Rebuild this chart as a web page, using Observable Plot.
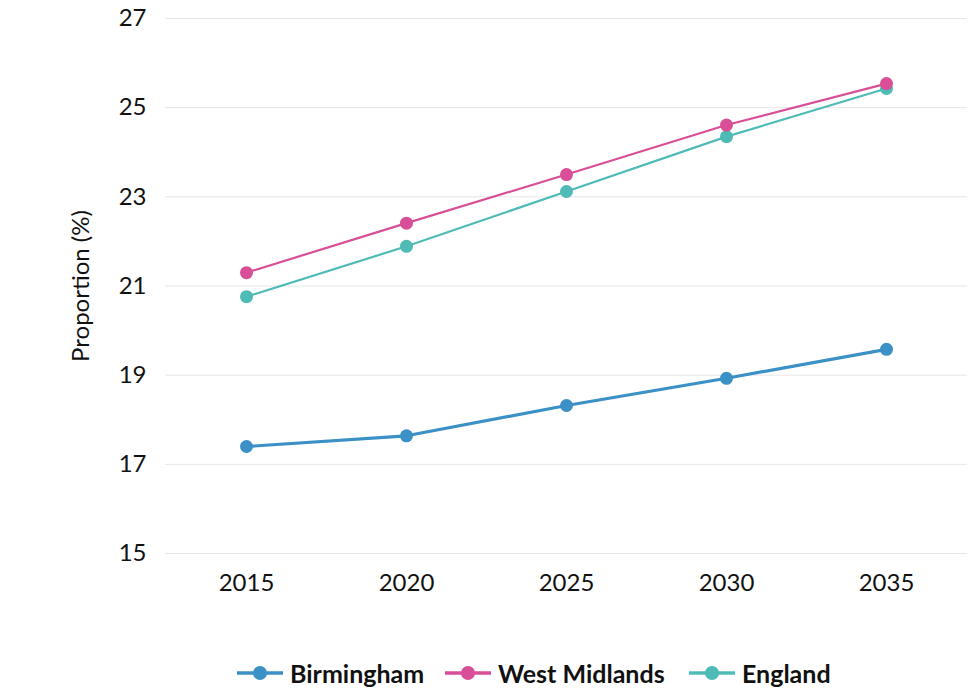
<!DOCTYPE html>
<html>
<head>
<meta charset="utf-8">
<script src="https://cdn.jsdelivr.net/npm/d3@7"></script>
<script src="https://cdn.jsdelivr.net/npm/@observablehq/plot@0.6"></script>
<style>
  html, body { margin: 0; padding: 0; background: #fff; }
  body { width: 975px; height: 688px; overflow: hidden; font-family: Lato, "Open Sans", sans-serif; }
  #legend { position: absolute; left: 0; top: 658px; width: 975px; height: 30px; }
  .item { position: absolute; top: 0; display: flex; align-items: center; height: 30px; font-weight: 700; font-size: 25px; color: #111; white-space: nowrap; }
  .item svg { margin-right: 6px; }
</style>
</head>
<body>
<div id="chart"></div>
<div id="legend"></div>
<script>
const years = ["2015", "2020", "2025", "2030", "2035"];
const seriesNames = ["Birmingham", "West Midlands", "England"];
const birmingham = [17.40, 17.64, 18.32, 18.93, 19.58];
const westMidlands = [21.30, 22.41, 23.50, 24.61, 25.54];
const england = [20.76, 21.89, 23.12, 24.35, 25.43];
const colors = ["#3b91c6", "#d84f97", "#4fbbb6"];
const widths = [3.2, 2.2, 2.2];
const yTicks = [15, 17, 19, 21, 23, 25, 27];

const valuesBySeries = [birmingham, westMidlands, england];
const data = [];
seriesNames.forEach((s, i) => years.forEach((y, j) => data.push({series: s, year: y, value: valuesBySeries[i][j]})));

const drawOrder = ["England", "West Midlands", "Birmingham"];
const marks = [Plot.gridY(yTicks, {stroke: "#e6e6e6", strokeOpacity: 1, strokeWidth: 1})];
for (const s of drawOrder) {
  const i = seriesNames.indexOf(s);
  const d = data.filter(r => r.series === s);
  marks.push(Plot.line(d, {x: "year", y: "value", stroke: colors[i], strokeWidth: widths[i]}));
  marks.push(Plot.dot(d, {x: "year", y: "value", fill: colors[i], r: 6.5}));
}
marks.push(Plot.axisY(yTicks, {tickSize: 0, tickPadding: 19, fontSize: 24, label: null}));
marks.push(Plot.axisX({tickSize: 0, tickPadding: 20, fontSize: 24, label: null}));
marks.push(Plot.text(["Proportion (%)"], {frameAnchor: "left", textAnchor: "middle", dx: -84, rotate: -90, fontSize: 24, fill: "#111"}));

const chart = Plot.plot({
  width: 975,
  height: 620,
  marginTop: 18,
  marginBottom: 67,
  marginLeft: 165,
  marginRight: 8,
  style: {fontFamily: "Lato, 'Open Sans', sans-serif", color: "#111", overflow: "visible"},
  x: {type: "point", domain: years, padding: 0.5},
  y: {domain: [15, 27]},
  marks
});
document.getElementById("chart").appendChild(chart);

const legend = document.getElementById("legend");
const legendLeft = [236, 444, 688];
seriesNames.forEach((s, i) => {
  const item = document.createElement("div");
  item.className = "item";
  item.style.left = legendLeft[i] + "px";
  item.innerHTML = `<svg width="48" height="20"><line x1="1" y1="10" x2="47" y2="10" stroke="${colors[i]}" stroke-width="3.5"/><circle cx="24" cy="10" r="7" fill="${colors[i]}"/></svg><span>${s}</span>`;
  legend.appendChild(item);
});
</script>
</body>
</html>
